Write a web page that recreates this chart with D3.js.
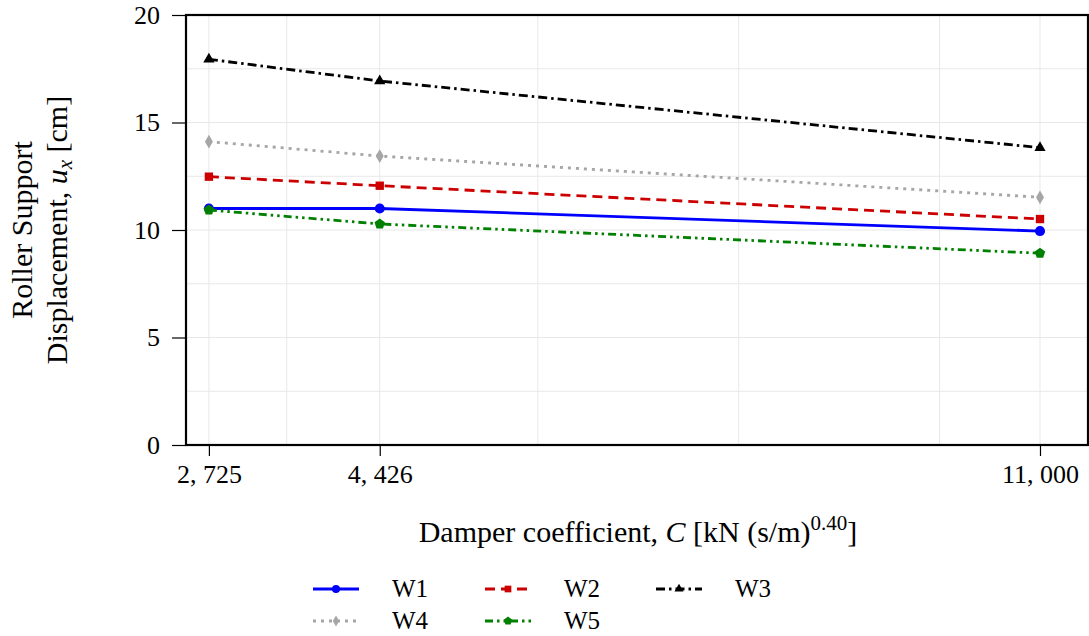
<!DOCTYPE html>
<html>
<head>
<meta charset="utf-8">
<script src="https://cdn.jsdelivr.net/npm/d3@7"></script>
<style>
  html, body { margin: 0; padding: 0; background: #fff; }
  svg { display: block; }
  svg text { font-family: "Liberation Serif", "Times New Roman", Times, "DejaVu Serif", serif; }
</style>
</head>
<body>
<svg id="chart" width="1089" height="636"></svg>
<script>
// Damper coefficient values (x) and roller support displacement per record (cm)
const coefficients = [2725, 4426, 11000];
const tickLabels = ["2, 725", "4, 426", "11, 000"];
const yTicks = [0, 5, 10, 15, 20];
const W1 = [11.0, 11.0, 9.95];
const W2 = [12.48, 12.06, 10.51];
const W3 = [17.94, 16.93, 13.83];
const W4 = [14.11, 13.44, 11.52];
const W5 = [10.93, 10.28, 8.92];
const seriesNames = ["W1", "W2", "W3", "W4", "W5"];

const series = [
  { values: W1, color: "#0000ff", dash: null, marker: "circle" },
  { values: W2, color: "#cc0000", dash: "10,6", marker: "square" },
  { values: W3, color: "#000000", dash: "9,4,2.5,4", marker: "triangle" },
  { values: W4, color: "#a6a6a6", dash: "3,5", marker: "diamond" },
  { values: W5, color: "#008000", dash: "8,4,2.5,4,2.5,4", marker: "pentagon" }
];

const FONT = '"Liberation Serif", "Times New Roman", Times, "DejaVu Serif", serif';
const svg = d3.select("#chart");
const plotL = 186, plotR = 1088, plotT = 15, plotB = 445;

const x = d3.scaleLinear().domain([2497, 11478]).range([plotL, plotR]);
const y = d3.scaleLinear().domain([0, 20]).range([plotB, plotT]);

// grid
const g = svg.append("g");
const vGrid = [2725, 3500, 4426, 6000, 8000, 10000, 11000];
g.selectAll("line.vg").data(vGrid).enter().append("line")
  .attr("x1", d => x(d)).attr("x2", d => x(d))
  .attr("y1", plotT).attr("y2", plotB)
  .attr("stroke", "#e8e8e8").attr("stroke-width", 1);
const hGrid = d3.range(0, 20.01, 2.5);
g.selectAll("line.hg").data(hGrid).enter().append("line")
  .attr("x1", plotL).attr("x2", plotR)
  .attr("y1", d => y(d)).attr("y2", d => y(d))
  .attr("stroke", "#e8e8e8").attr("stroke-width", 1);

// axes
const yAxis = d3.axisLeft(y).tickValues(yTicks).tickSize(14).tickPadding(12).tickFormat(d3.format("d"));
const yG = svg.append("g").attr("transform", `translate(${plotL},0)`).call(yAxis)
  .attr("font-family", FONT).attr("font-size", 26);
yG.select(".domain").remove();
yG.selectAll("line").attr("stroke", "#000").attr("stroke-width", 1.2);
yG.selectAll("text").attr("fill", "#000");

const xAxis = d3.axisBottom(x).tickValues(coefficients).tickSize(11).tickPadding(9)
  .tickFormat((d, i) => tickLabels[i]);
const xG = svg.append("g").attr("transform", `translate(0,${plotB})`).call(xAxis)
  .attr("font-family", FONT).attr("font-size", 26);
xG.select(".domain").remove();
xG.selectAll("line").attr("stroke", "#000").attr("stroke-width", 1.2);
xG.selectAll("text").attr("fill", "#000");

// frame
svg.append("rect").attr("x", plotL).attr("y", plotT)
  .attr("width", plotR - plotL).attr("height", plotB - plotT)
  .attr("fill", "none").attr("stroke", "#000").attr("stroke-width", 2.2);

// markers
function markerPath(type, s) {
  switch (type) {
    case "circle": return d3.symbol(d3.symbolCircle, s * s * 0.8)();
    case "square": return d3.symbol(d3.symbolSquare, s * s * 0.7)();
    case "triangle": return d3.symbol(d3.symbolTriangle, s * s * 0.55)();
    case "diamond": return d3.symbol(d3.symbolDiamond, s * s * 0.55)();
    case "pentagon": {
      const r = s * 0.55, pts = [];
      for (let k = 0; k < 5; k++) {
        const a = -Math.PI / 2 + k * 2 * Math.PI / 5;
        pts.push([r * Math.cos(a), r * Math.sin(a)]);
      }
      return "M" + pts.map(p => p.join(",")).join("L") + "Z";
    }
  }
}

const line = d3.line().x((d, i) => x(coefficients[i])).y(d => y(d));
series.forEach(s => {
  svg.append("path").datum(s.values)
    .attr("d", line).attr("fill", "none")
    .attr("stroke", s.color).attr("stroke-width", 2.8)
    .attr("stroke-dasharray", s.dash);
  svg.selectAll(null).data(s.values).enter().append("path")
    .attr("d", markerPath(s.marker, 10))
    .attr("transform", (d, i) => `translate(${x(coefficients[i])},${y(d)})`)
    .attr("fill", s.color);
});

// axis titles
const yt = svg.append("text").attr("transform", "translate(32,230) rotate(-90)")
  .attr("text-anchor", "middle").attr("font-size", 30).attr("fill", "#000");
yt.append("tspan").attr("x", 0).attr("y", 0).text("Roller Support");
const l2 = yt.append("tspan").attr("x", 0).attr("y", 35);
l2.append("tspan").text("Displacement, ");
l2.append("tspan").attr("font-style", "italic").text("u");
l2.append("tspan").attr("font-style", "italic").attr("font-size", 21).attr("dy", 5).text("x");
l2.append("tspan").attr("dy", -5).text(" [cm]");

const xt = svg.append("text").attr("x", 638).attr("y", 542)
  .attr("text-anchor", "middle").attr("font-size", 30).attr("fill", "#000");
xt.append("tspan").text("Damper coefficient, ");
xt.append("tspan").attr("font-style", "italic").text("C");
xt.append("tspan").text(" [kN (s/m)");
xt.append("tspan").attr("font-size", 21).attr("dy", -12.5).text("0.40");
xt.append("tspan").attr("dy", 12.5).text("]");

// legend
const legendPos = [
  { lx: 313, ty: 589 }, { lx: 485, ty: 589 }, { lx: 656, ty: 589 },
  { lx: 313, ty: 621 }, { lx: 485, ty: 621 }
];
series.forEach((s, i) => {
  const p = legendPos[i];
  const lg = svg.append("g");
  lg.append("line").attr("x1", p.lx).attr("x2", p.lx + 46)
    .attr("y1", p.ty).attr("y2", p.ty)
    .attr("stroke", s.color).attr("stroke-width", 2.8)
    .attr("stroke-dasharray", s.dash);
  lg.append("path").attr("d", markerPath(s.marker, 8))
    .attr("transform", `translate(${p.lx + 23},${p.ty})`).attr("fill", s.color);
  lg.append("text").attr("x", p.lx + 79).attr("y", p.ty + 8)
    .attr("font-size", 25).attr("fill", "#000").text(seriesNames[i]);
});
</script>
</body>
</html>
